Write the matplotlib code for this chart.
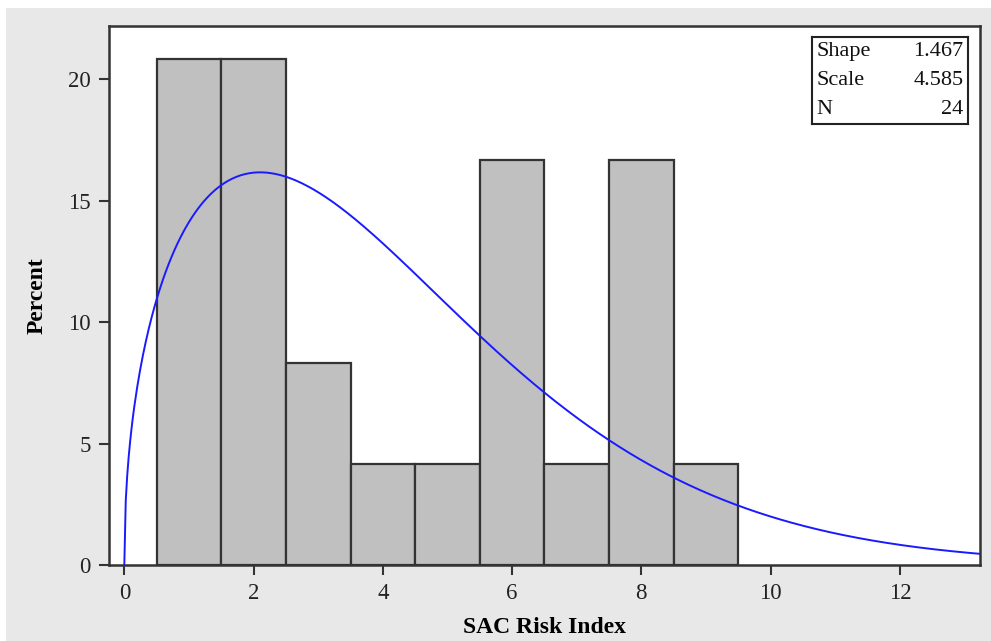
import numpy as np
import matplotlib
matplotlib.use("Agg")
import matplotlib.pyplot as plt
from matplotlib.patches import Rectangle

# Data
bin_centers = [1, 2, 3, 4, 5, 6, 7, 8, 9]
percents = [20.833, 20.833, 8.333, 4.167, 4.167, 16.667, 4.167, 16.667, 4.167]
bin_width = 1.0
weibull_shape = 1.467
weibull_scale = 4.585
n_obs = 24
x_ticks = [0, 2, 4, 6, 8, 10, 12]
y_ticks = [0, 5, 10, 15, 20]

W, H = 991, 641
fig = plt.figure(figsize=(W / 100, H / 100), dpi=100)
fig.patch.set_facecolor("white")
fig.patches.append(Rectangle((6 / W, 0), 1 - 6 / W, 1 - 8 / H, transform=fig.transFigure,
                             facecolor="#e8e8e8", edgecolor="none", zorder=-10))

ax = fig.add_axes([109 / W, 1 - 565 / H, (980 - 109) / W, (565 - 26) / H])
ax.set_facecolor("white")

ax.bar(bin_centers, percents, width=bin_width, color="#c0c0c0", edgecolor="#333333",
       linewidth=1.6, zorder=2)

xs = np.linspace(1e-6, 13.3, 600)
k, lam = weibull_shape, weibull_scale
pdf = (k / lam) * (xs / lam) ** (k - 1) * np.exp(-(xs / lam) ** k)
ax.plot(xs, pdf * 100 * bin_width, color="#1a1aff", linewidth=1.4, zorder=3, clip_on=True)

ax.set_xlim(-0.237, 13.24)
ax.set_ylim(0, 22.19)
ax.set_xticks(x_ticks)
ax.set_yticks(y_ticks)

serif = ["Liberation Serif", "DejaVu Serif"]
for lab in ax.get_xticklabels() + ax.get_yticklabels():
    lab.set_fontfamily(serif)
    lab.set_fontsize(16.5)
    lab.set_color("#222222")
ax.tick_params(direction="out", length=7, width=1.5, color="#333333", pad=6)

for s in ax.spines.values():
    s.set_linewidth(1.8)
    s.set_color("#333333")

ax.set_xlabel("SAC Risk Index", fontfamily=serif, fontweight="bold", fontsize=17, labelpad=9)
ax.set_ylabel("Percent", fontfamily=serif, fontweight="bold", fontsize=17, labelpad=15)

# Inset box
txt_rows = [("Shape", f"{weibull_shape:.3f}"), ("Scale", f"{weibull_scale:.3f}"), ("N", f"{n_obs}")]
bx0, by0, bx1, by1 = 812, 37, 968, 124
ax_box = fig.add_axes([bx0 / W, 1 - by1 / H, (bx1 - bx0) / W, (by1 - by0) / H])
ax_box.set_xticks([]); ax_box.set_yticks([])
ax_box.set_facecolor("white")
for s in ax_box.spines.values():
    s.set_linewidth(1.5)
    s.set_color("#222222")
ax_box.set_xlim(0, 1); ax_box.set_ylim(0, 1)
for i, (a, b) in enumerate(txt_rows):
    yy = 1 - (i + 0.5) / 3
    ax_box.text(0.03, yy, a, ha="left", va="center", fontfamily=serif, fontsize=16, color="#111111")
    ax_box.text(0.97, yy, b, ha="right", va="center", fontfamily=serif, fontsize=16, color="#111111")

fig.savefig("out.png", dpi=100, facecolor=fig.get_facecolor())
